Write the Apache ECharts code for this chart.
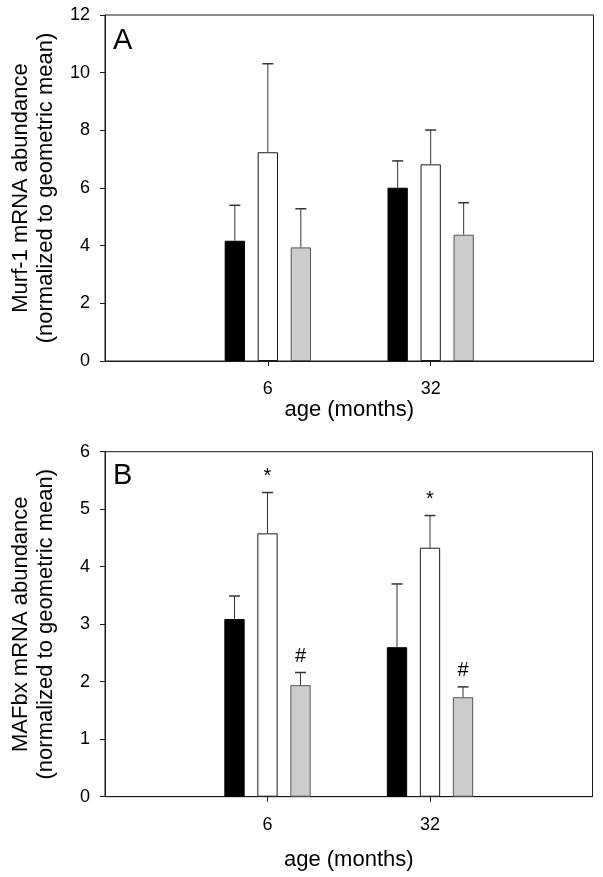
<!DOCTYPE html>
<html>
<head>
<meta charset="utf-8">
<script src="https://cdn.jsdelivr.net/npm/echarts@6/dist/echarts.min.js"></script>
<style>
html,body{margin:0;padding:0;background:#fff;}
#chart{width:603px;height:877px;}
</style>
</head>
<body>
<div id="chart"></div>
<script>
// ---- data ----
const categories = ['', '6', '32', ''];

// Panel A: Murf-1 (means and upper error)
const murfBlack = [4.17, 6.01];
const murfWhite = [7.24, 6.82];
const murfGray  = [3.94, 4.38];
const murfBlackErr = [1.23, 0.93];
const murfWhiteErr = [3.07, 1.19];
const murfGrayErr  = [1.34, 1.11];

// Panel B: MAFbx
const mafBlack = [3.09, 2.60];
const mafWhite = [4.58, 4.33];
const mafGray  = [1.94, 1.73];
const mafBlackErr = [0.40, 1.10];
const mafWhiteErr = [0.71, 0.56];
const mafGrayErr  = [0.22, 0.18];

// significance marks (panel B)
const mafWhiteMarks = ['*', '*'];
const mafGrayMarks  = ['#', '#'];

const yTicksA = {min: 0, max: 12, interval: 2};
const yTicksB = {min: 0, max: 6, interval: 1};

// ---- styles ----
const FONT = 'Liberation Sans, Arial, Helvetica, sans-serif';
const BAR_W = 20.3;
const BAR_GAP = 12.7;
const AXIS_COLOR = '#1a1a1a';
const ERR_COLOR = '#333';
const fills = [
  {color: '#000000', borderColor: '#000000', borderWidth: 1},
  {color: '#ffffff', borderColor: '#1a1a1a', borderWidth: 1},
  {color: '#cccccc', borderColor: '#555555', borderWidth: 1}
];

function full(vals) { return [null, vals[0], vals[1], null]; }

function errSeries(gridIdx, k, means, errs, marks) {
  const offset = (k - 1) * (BAR_W + BAR_GAP);
  return {
    type: 'custom',
    xAxisIndex: gridIdx, yAxisIndex: gridIdx,
    z: 5,
    silent: true,
    data: means.map((m, i) => [i + 1, m, errs[i]]),
    renderItem: function (params, api) {
      const c = api.value(0), m = api.value(1), e = api.value(2);
      const pBar = api.coord([c, m]);
      const pTop = api.coord([c, m + e]);
      const x = pBar[0] + offset;
      const children = [
        {type: 'line', shape: {x1: x, y1: pBar[1], x2: x, y2: pTop[1]},
         style: {stroke: ERR_COLOR, lineWidth: 1}},
        {type: 'line', shape: {x1: x - 5.5, y1: pTop[1], x2: x + 5.5, y2: pTop[1]},
         style: {stroke: ERR_COLOR, lineWidth: 1.5}}
      ];
      if (marks && marks[params.dataIndex]) {
        const mk = marks[params.dataIndex];
        children.push({type: 'text', x: x, y: pTop[1] - 6,
          style: {text: mk, fill: '#000', font: '20px ' + FONT, align: 'center', verticalAlign: 'bottom'}});
      }
      return {type: 'group', children: children};
    }
  };
}

function barSeries(gridIdx, k, vals) {
  return {
    type: 'bar', xAxisIndex: gridIdx, yAxisIndex: gridIdx,
    data: full(vals), barWidth: BAR_W, barGap: (BAR_GAP / BAR_W * 100).toFixed(1) + '%',
    itemStyle: fills[k], silent: true, z: 2
  };
}

function xAxis(gridIdx, gap) {
  return {
    type: 'category', gridIndex: gridIdx, data: categories, boundaryGap: false,
    axisLine: {show: true, lineStyle: {color: AXIS_COLOR, width: 1}},
    axisTick: {show: true, length: 5, inside: false, interval: (i) => i === 1 || i === 2,
               lineStyle: {color: AXIS_COLOR}},
    axisLabel: {interval: 0, margin: 19, fontSize: 18, color: '#000', fontFamily: FONT},
    splitLine: {show: false},
    name: 'age (months)', nameLocation: 'middle', nameGap: gap,
    nameTextStyle: {fontSize: 22, color: '#000', fontFamily: FONT}
  };
}

function yAxis(gridIdx, t, name) {
  return {
    type: 'value', gridIndex: gridIdx, min: t.min, max: t.max, interval: t.interval,
    axisLine: {show: true, lineStyle: {color: AXIS_COLOR, width: 1}},
    axisTick: {show: true, length: 5, inside: false, lineStyle: {color: AXIS_COLOR}},
    axisLabel: {margin: 15, fontSize: 18, color: '#000', fontFamily: FONT},
    splitLine: {show: false},
    name: name, nameLocation: 'middle', nameRotate: 90, nameGap: 47,
    nameTextStyle: {fontSize: 22, lineHeight: 25, color: '#000', fontFamily: FONT, align: 'center'}
  };
}

const chart = echarts.init(document.getElementById('chart'), null, {renderer: 'canvas'});
chart.setOption({
  backgroundColor: '#fff',
  animation: false,
  grid: [
    {left: 101, top: 15, width: 492.5, height: 346, show: true, borderColor: AXIS_COLOR, borderWidth: 1, backgroundColor: 'transparent'},
    {left: 101, top: 451.7, width: 491.5, height: 345, show: true, borderColor: AXIS_COLOR, borderWidth: 1, backgroundColor: 'transparent'}
  ],
  xAxis: [xAxis(0, 38), xAxis(1, 52)],
  yAxis: [
    yAxis(0, yTicksA, 'Murf-1 mRNA abundance\n(normalized to geometric mean)'),
    yAxis(1, yTicksB, 'MAFbx mRNA abundance\n(normalized to geometric mean)')
  ],
  graphic: [
    {type: 'text', left: 113, top: 26, style: {text: 'A', font: '29px ' + FONT, fill: '#000'}},
    {type: 'text', left: 113, top: 461, style: {text: 'B', font: '29px ' + FONT, fill: '#000'}}
  ],
  series: [
    barSeries(0, 0, murfBlack), barSeries(0, 1, murfWhite), barSeries(0, 2, murfGray),
    barSeries(1, 0, mafBlack), barSeries(1, 1, mafWhite), barSeries(1, 2, mafGray),
    errSeries(0, 0, murfBlack, murfBlackErr, null),
    errSeries(0, 1, murfWhite, murfWhiteErr, null),
    errSeries(0, 2, murfGray, murfGrayErr, null),
    errSeries(1, 0, mafBlack, mafBlackErr, null),
    errSeries(1, 1, mafWhite, mafWhiteErr, mafWhiteMarks),
    errSeries(1, 2, mafGray, mafGrayErr, mafGrayMarks)
  ]
});
</script>
</body>
</html>
